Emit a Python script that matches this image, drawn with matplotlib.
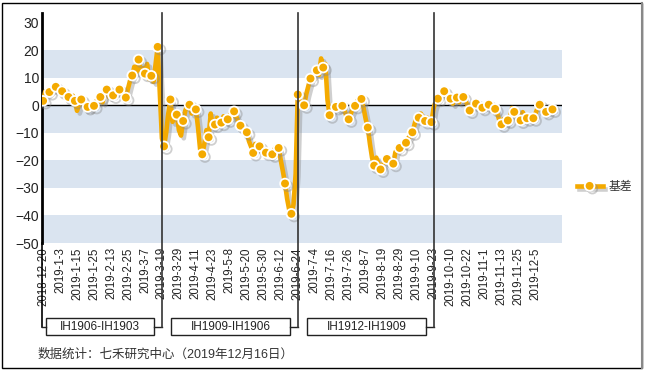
import matplotlib
matplotlib.use("Agg")
import matplotlib.pyplot as plt
import matplotlib.patheffects as pe
import matplotlib.transforms as mtransforms
from matplotlib.patches import Rectangle
from matplotlib.lines import Line2D

plt.rcParams['font.family'] = ['Liberation Sans', 'Noto Sans CJK SC', 'DejaVu Sans']

# 基差 (trading-day series)
basis = [
    1.6, 5.0, 4.0, 4.8, 5.5, 6.0, 6.7, 5.5, 6.0, 5.1, 3.5, 4.5,
    3.0, 2.5, 3.5, 1.6, -2.0, 0.5, 2.1, 0.5, -1.5, -0.6, -1.5, 0.0,
    -0.2, 1.5, 1.0, 3.0, 1.0, 4.5, 5.7, 3.0, 5.0, 3.6, 5.0, 4.5,
    5.7, 4.5, 3.5, 2.8, 6.0, 9.0, 10.8, 14.0, 12.0, 16.6, 12.5, 13.5,
    11.5, 15.0, 9.5, 10.7, 8.5, 15.0, 21.2, 5.0, -12.0, -14.9, -10.0, -3.0,
    2.1, -6.0, -4.0, -3.4, -9.0, -11.0, -5.7, -2.0, 0.0, 0.2, -3.0, -1.0,
    -1.5, -8.0, -16.0, -17.8, -14.0, -9.0, -11.6, -3.0, -8.0, -7.0, -4.5, -6.5,
    -6.3, -4.0, -6.0, -5.1, -3.5, -4.5, -2.2, -4.0, -6.0, -7.4, -8.5, -9.0,
    -9.8, -13.0, -15.0, -17.3, -14.0, -15.5, -14.9, -16.0, -17.0, -17.2, -16.5, -18.5,
    -17.8, -16.0, -15.0, -15.5, -20.0, -24.0, -28.4, -34.0, -38.0, -39.4, -36.0, -25.0,
    3.9, 1.0, 0.5, 0.0, 4.0, 7.0, 9.7, 10.5, 11.5, 12.7, 11.0, 17.0,
    13.7, 15.0, 2.0, -3.6, -2.0, -1.0, -0.6, -1.5, 0.0, -0.2, -2.0, -4.0,
    -5.1, -3.0, -1.0, -0.2, 1.5, 2.5, 2.3, -1.0, -5.0, -8.1, -14.0, -19.0,
    -21.9, -19.0, -21.0, -23.3, -22.0, -20.0, -19.5, -19.0, -20.5, -21.2, -17.0, -16.0,
    -15.5, -14.0, -14.5, -13.6, -12.0, -11.0, -9.8, -7.0, -4.0, -4.5, -3.0, -4.5,
    -5.7, -4.5, -6.0, -6.1, -1.0, 1.5, 2.4, 3.5, 4.0, 5.1, 3.5, 1.5,
    2.4, 0.5, 2.5, 2.8, 1.0, 2.5, 3.0, 1.5, 0.0, -1.9, 0.5, 1.0,
    0.6, -0.5, -1.5, -0.9, -0.5, 0.5, 0.2, -1.0, 0.0, -1.3, -3.0, -5.5,
    -6.9, -5.0, -6.5, -5.5, -4.0, -1.0, -2.4, -3.5, -5.0, -5.5, -2.5, -4.0,
    -4.7, -5.0, -4.5, -4.7, -3.0, -1.0, 0.2, -1.0, -3.0, -2.4, -2.5, -2.0,
    -1.5,
]

tick_labels = [
    '2018-12-20', '2019-1-3', '2019-1-15', '2019-1-25', '2019-2-13', '2019-2-25',
    '2019-3-7', '2019-3-19', '2019-3-29', '2019-4-11', '2019-4-23', '2019-5-8',
    '2019-5-20', '2019-5-30', '2019-6-12', '2019-6-24', '2019-7-4', '2019-7-16',
    '2019-7-26', '2019-8-7', '2019-8-19', '2019-8-29', '2019-9-10', '2019-9-23',
    '2019-10-10', '2019-10-22', '2019-11-1', '2019-11-13', '2019-11-25', '2019-12-5',
]
tick_step = 8

# contract roll dates (index of trading day) and spread names
roll_idx = [56, 120, 184]
spread_names = ['IH1906-IH1903', 'IH1909-IH1906', 'IH1912-IH1909']

orange = '#f4aa00'
band = '#dae4f0'

fig = plt.figure(figsize=(6.46, 3.72), dpi=100)
ax = fig.add_axes([42 / 646, 1 - 243 / 372, 520 / 646, 230 / 372])

x = list(range(len(basis)))
x0, x1 = -0.5, 244.5
ax.set_xlim(x0, x1)
ax.set_ylim(-50, 33.5)

for lo in [10, -10, -30, -50]:
    ax.axhspan(lo, lo + 10, color=band, lw=0, zorder=0)
ax.axhline(0, color='black', lw=1, zorder=1)

ax.plot(x, basis, color=orange, lw=3.3, marker='o', markevery=3, ms=7,
        mfc=orange, mec='white', mew=1.3, zorder=3, solid_joinstyle='round',
        path_effects=[pe.SimpleLineShadow(offset=(2, -2), shadow_color='#888888', alpha=0.4),
                      pe.Normal()])

ax.set_yticks(range(-50, 31, 10))
ax.set_xticks(range(0, len(tick_labels) * tick_step, tick_step))
ax.set_xticklabels(tick_labels, rotation=90, fontsize=8.3, color='#222222')
ax.tick_params(axis='y', labelsize=10, labelcolor='#222222', length=0, pad=2)
ax.tick_params(axis='x', length=0, pad=3)
for s in ['top', 'right', 'bottom']:
    ax.spines[s].set_visible(False)
ax.spines['left'].set_linewidth(2)
ax.spines['left'].set_color('black')

# roll lines and spread boxes below the axis
trans = mtransforms.blended_transform_factory(ax.transData, fig.transFigure)
y_top, y_stub = 1 - 13 / 372, 1 - 327 / 372
box_lo, box_hi = 1 - 335 / 372, 1 - 318 / 372
fig.add_artist(Line2D([x0, x0], [1 - 243 / 372, y_stub], transform=trans, color='black', lw=1.2))
for r in roll_idx:
    fig.add_artist(Line2D([r, r], [y_top, y_stub], transform=trans, color='#333333', lw=1.2, zorder=5))
starts = [x0] + roll_idx[:-1]
for i, (s, e, name) in enumerate(zip(starts, roll_idx, spread_names)):
    left = s + (1.8 if i == 0 else 4.5)
    right = e - 3.5
    fig.add_artist(Rectangle((left, box_lo), right - left, box_hi - box_lo, transform=trans,
                             fill=False, edgecolor='#222222', lw=1))
    fig.add_artist(Line2D([right, e], [y_stub, y_stub], transform=trans, color='#222222', lw=1))
    fig.text((left + right) / 2, (box_lo + box_hi) / 2, name, transform=trans,
             ha='center', va='center', fontsize=8.5, color='#222222')
fig.add_artist(Line2D([x0, x0 + 1.8], [y_stub, y_stub], transform=trans, color='#222222', lw=1))

# legend
h = Line2D([], [], color=orange, lw=3.3, marker='o', ms=7, mfc=orange, mec='white', mew=1.3,
           path_effects=[pe.SimpleLineShadow(offset=(2, -2), shadow_color='#888888', alpha=0.4),
                         pe.Normal()])
fig.legend([h], ['基差'], loc='center left', bbox_to_anchor=(566 / 646, 1 - 187 / 372),
           frameon=False, fontsize=8.5, handlelength=2.2, handletextpad=0.5,
           labelcolor='#333333')

fig.text(38 / 646, 1 - 355 / 372, '数据统计：七禾研究中心（2019年12月16日）',
         ha='left', va='center', fontsize=9, color='#333333')

# outer frame
fig.add_artist(Rectangle((1.5 / 646, 4 / 372), 640 / 646, 365 / 372, transform=fig.transFigure,
                         fill=False, edgecolor='black', lw=1))
fig.add_artist(Line2D([642 / 646, 642 / 646], [4 / 372, 369 / 372], transform=fig.transFigure,
                      color='#888888', lw=1.5))

fig.savefig('out.png', dpi=100)
